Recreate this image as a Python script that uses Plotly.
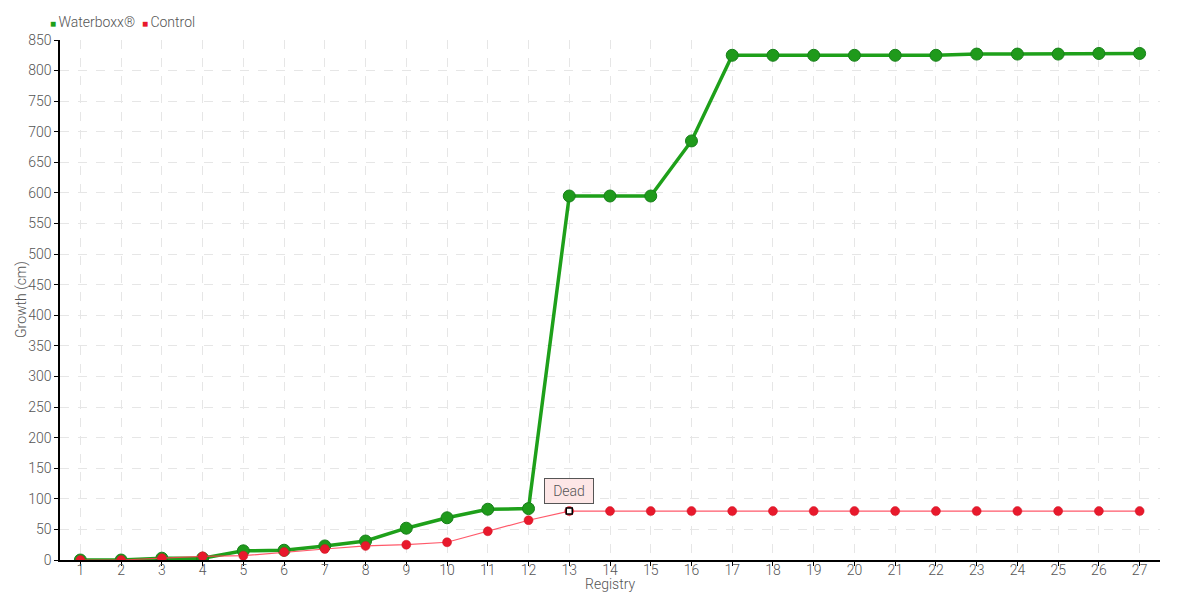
import plotly.graph_objects as go

registry = list(range(1, 28))
waterboxx = [0, 0, 3, 3, 15, 16, 23, 31, 52, 69, 83, 84, 595, 595, 595, 685, 825, 825, 825, 825, 825, 825, 827, 827, 827, 828, 828]
control = [0, 0, 3, 6, 7, 13, 18, 23, 25, 29, 47, 65, 80, 80, 80, 80, 80, 80, 80, 80, 80, 80, 80, 80, 80, 80, 80]
y_ticks = list(range(0, 851, 50))
dead_index = 12

FONT = "Roboto, sans-serif"
GREEN = "#1ea01a"
RED = "#e8192c"
TXT = "#555"

fig = go.Figure()
fig.add_trace(go.Scatter(
    x=registry, y=waterboxx, name="Waterboxx®", mode="lines+markers", showlegend=False,
    line=dict(color=GREEN, width=3.5),
    marker=dict(color="#1f9a1b", size=12, line=dict(color="#17801a", width=1)),
))
fig.add_trace(go.Scatter(
    x=registry, y=control, name="Control", mode="lines+markers", showlegend=False,
    line=dict(color="rgba(255,60,80,0.85)", width=1.2),
    marker=dict(color=RED, size=9, line=dict(color="#d11525", width=0.5)),
))
fig.add_trace(go.Scatter(
    x=[registry[dead_index]], y=[control[dead_index]], mode="markers", showlegend=False,
    marker=dict(symbol="square", size=6, color="white", line=dict(color="black", width=1.5)),
    hoverinfo="skip",
))
fig.add_annotation(
    x=registry[dead_index], y=control[dead_index], text="Dead", showarrow=False,
    yanchor="bottom", yshift=7, width=48, height=24,
    bgcolor="#fde6e6", bordercolor="#555", borderwidth=1, borderpad=0,
    font=dict(family=FONT, size=14, color=TXT, weight=300),
)
# legend
fig.add_annotation(
    xref="paper", yref="paper", x=-0.011, y=1.0, xanchor="left", yanchor="bottom", yshift=8,
    showarrow=False,
    text=(f"<span style='color:{GREEN};font-size:10px'>■ </span>Waterboxx®  "
          f"<span style='color:{RED};font-size:10px'>■ </span>Control"),
    font=dict(family=FONT, size=14, color=TXT, weight=300),
)
# axis titles
fig.add_annotation(
    xref="paper", yref="paper", x=0.5, y=0, yanchor="top", yshift=-14, showarrow=False,
    text="Registry", font=dict(family=FONT, size=14, color=TXT, weight=300),
)
fig.add_annotation(
    xref="paper", yref="paper", x=0, y=0.5, xanchor="center", xshift=-39, showarrow=False,
    textangle=-90, text="Growth (cm)", font=dict(family=FONT, size=14, color=TXT, weight=300),
)

axis_common = dict(
    showline=True, linecolor="black", linewidth=1.5, ticks="outside", ticklen=4, tickcolor="black",
    showgrid=True, gridcolor="#e6e6e6", griddash="dash", gridwidth=1, zeroline=False,
    tickfont=dict(size=14, color=TXT, weight=300), automargin=False,
)

# the page body adds an 8px offset, so the figure is 16px smaller than the window
fig.update_layout(
    width=1164, height=584,
    margin=dict(l=52, r=12, t=32, b=32),
    paper_bgcolor="white", plot_bgcolor="white",
    font=dict(family=FONT, size=14, color=TXT, weight=300),
    showlegend=False,
    xaxis=dict(
        range=[0.5, 27.5], tickmode="array", tickvals=registry, ticktext=[str(r) for r in registry],
        ticklabelstandoff=-8,
        **axis_common,
    ),
    yaxis=dict(
        range=[0, 850], tickmode="array", tickvals=y_ticks,
        **axis_common,
    ),
)

fig.write_html("out.html")
